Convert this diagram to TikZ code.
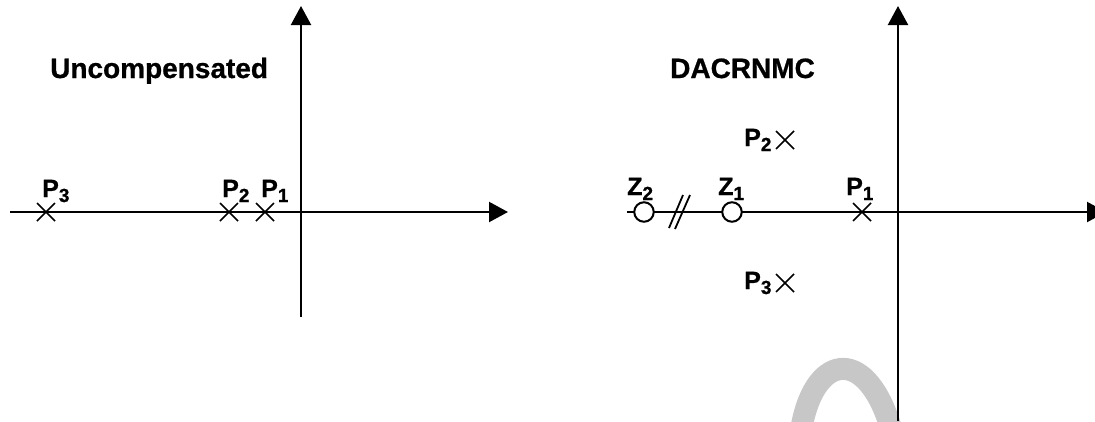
\documentclass[tikz,border=0pt]{standalone}
\usepackage{fontspec}
\setmainfont{Liberation Sans}[BoldFeatures={FakeBold=0.8}]
\usetikzlibrary{arrows.meta}
\tikzset{
  axis/.style={line width=2.2pt,-{Triangle[length=19pt,width=20pt]}},
  title/.style={font=\fontsize{28}{28}\bfseries\selectfont,anchor=base west,inner sep=0pt},
  lbl/.style={font=\fontsize{25}{25}\bfseries\selectfont,anchor=base west,inner sep=0pt},
  polecross/.style={line width=1.5pt},
  zerocirc/.style={circle,draw,line width=2pt,fill=white,minimum size=19.5pt,inner sep=0pt},
  wmark/.style={line width=22pt,color=black!22}
}
\newcommand{\sbs}[1]{\raisebox{-5pt}{\fontsize{19}{19}\bfseries\selectfont #1}}
\begin{document}
\begin{tikzpicture}[x=1pt,y=-1pt]
\useasboundingbox (0,0) rectangle (1095,421);
% watermark fragment
\draw[wmark] (802,425) .. controls (816,352) and (868,346) .. (892,432);
% ---------- left plot ----------
\coordinate (LL) at (10,212);
\coordinate (LR) at (508,212);
\coordinate (LT) at (301,6);
\coordinate (LB) at (301,317);
\draw[axis] (LL) -- (LR);
\draw[axis] (LB) -- (LT);
\node[title] (t1) at (50,78) {Uncompensated};
\foreach \n/\x in {lp3/46,lp2/229,lp1/265}{
  \coordinate (\n) at (\x,212);
  \draw[polecross] ([shift={(-9,-9)}]\n) -- ([shift={(9,9)}]\n);
  \draw[polecross] ([shift={(-9,9)}]\n) -- ([shift={(9,-9)}]\n);
}
\node[lbl] (llp3) at (42,197) {P\sbs{3}};
\node[lbl] (llp2) at (222,197) {P\sbs{2}};
\node[lbl] (llp1) at (261,197) {P\sbs{1}};
% ---------- right plot ----------
\coordinate (RL) at (627,212);
\coordinate (RR) at (1106,212);
\coordinate (RT) at (898,6);
\coordinate (RB) at (898,421);
\draw[axis] (RL) -- (RR);
\draw[axis] (RB) -- (RT);
\node[title] (t2) at (670,78) {DACRNMC};
\node[zerocirc] (z2) at (644,212) {};
\node[zerocirc] (z1) at (732,212) {};
\coordinate (s1a) at (669,228); \coordinate (s1b) at (683,195);
\coordinate (s2a) at (675,229); \coordinate (s2b) at (690,195);
\draw[line width=1.8pt] (s1a) -- (s1b);
\draw[line width=1.8pt] (s2a) -- (s2b);
\foreach \n/\x/\y in {rp1/862/212,rp2/785/140,rp3/785/283}{
  \coordinate (\n) at (\x,\y);
  \draw[polecross] ([shift={(-9,-9)}]\n) -- ([shift={(9,9)}]\n);
  \draw[polecross] ([shift={(-9,9)}]\n) -- ([shift={(9,-9)}]\n);
}
\node[lbl] (lz2) at (627,195) {Z\sbs{2}};
\node[lbl] (lz1) at (718,195) {Z\sbs{1}};
\node[lbl] (lrp1) at (846,195) {P\sbs{1}};
\node[lbl] (lrp2) at (744,146) {P\sbs{2}};
\node[lbl] (lrp3) at (744,289) {P\sbs{3}};
\end{tikzpicture}
\end{document}
